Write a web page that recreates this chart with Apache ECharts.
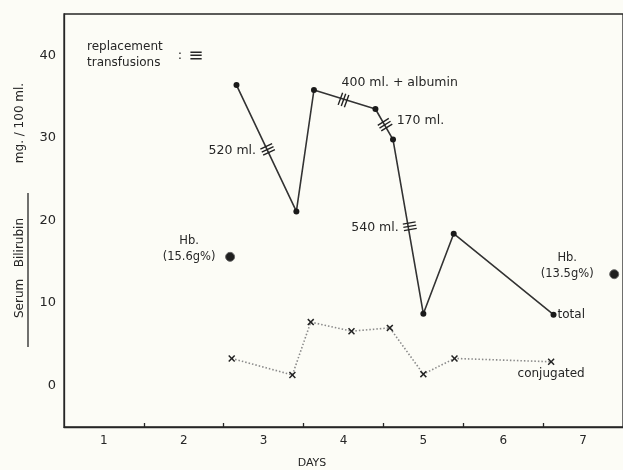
<!DOCTYPE html>
<html><head><meta charset="utf-8">
<script src="https://cdn.jsdelivr.net/npm/echarts@6/dist/echarts.min.js"></script>
<style>html,body{margin:0;padding:0;background:#fcfcf6;}#c{width:623px;height:470px;}</style>
</head><body><div id="c"></div>
<script>
// ---- data ----
const totalDays = [2.66, 3.41, 3.63, 4.40, 4.62, 5.00, 5.38, 6.63];
const totalValues = [36.4, 21.1, 35.8, 33.5, 29.8, 8.7, 18.4, 8.6];
const conjDays = [2.60, 3.36, 3.59, 4.10, 4.58, 5.00, 5.39, 6.60];
const conjValues = [3.3, 1.3, 7.7, 6.6, 7.0, 1.4, 3.3, 2.9];
const hbDays = [2.58, 7.39];
const hbValues = [15.6, 13.5];
const hbLabels = ['(15.6g%)', '(13.5g%)'];
const transDays = [3.05, 4.00, 4.52, 4.83];
const transValues = [28.6, 34.6, 31.6, 19.3];
const transLabels = ['520 ml.', '400 ml. + albumin', '170 ml.', '540 ml.'];
const xLabelValues = [1, 2, 3, 4, 5, 6, 7];
const xTickValues = [1.5, 2.5, 3.5, 4.5, 5.5, 6.5];
const yLabelValues = [0, 10, 20, 30, 40];

// ---- style ----
const ink = '#262626';
const font = 'DejaVu Sans';
const transRot = [25, 70, 32, 10];
const transLabelPos = [
  {position: 'left', distance: 4, offset: [0, 1]},
  {position: 'right', distance: 2, offset: [-10, -17]},
  {position: 'right', distance: 4, offset: [0, -4]},
  {position: 'left', distance: 4, offset: [0, 1]}
];
const hbLabelOffset = [[-41, -8], [-47, -8]];

const chart = echarts.init(document.getElementById('c'));
chart.setOption({
  backgroundColor: '#fcfcf6',
  animation: false,
  textStyle: {fontFamily: font, color: ink},
  grid: {left: 64, top: 14, bottom: 43, right: -5, show: true, borderColor: ink, borderWidth: 1.3},
  xAxis: {
    type: 'value', min: 0.5, max: 7.5,
    axisLine: {show: true, onZero: false, lineStyle: {color: ink, width: 1.3}},
    axisTick: {show: true, inside: true, length: 4, customValues: xTickValues, lineStyle: {color: ink, width: 1.3}},
    axisLabel: {customValues: xLabelValues, margin: 8, fontSize: 12, color: ink, fontFamily: font},
    splitLine: {show: false}
  },
  yAxis: {
    type: 'value', min: -5, max: 45,
    axisLine: {show: true, onZero: false, lineStyle: {color: ink, width: 1.3}},
    axisTick: {show: false},
    axisLabel: {customValues: yLabelValues, margin: 8, fontSize: 13, color: ink, fontFamily: font},
    splitLine: {show: false}
  },
  graphic: [
    {type: 'text', x: 20, y: 123, rotation: Math.PI / 2,
     style: {text: 'mg. / 100 ml.', font: '12px ' + font, fill: ink, align: 'center', verticalAlign: 'middle'}},
    {type: 'text', x: 20, y: 268, rotation: Math.PI / 2,
     style: {text: 'Serum   Bilirubin', font: '12px ' + font, fill: ink, align: 'center', verticalAlign: 'middle'}},
    {type: 'line', shape: {x1: 28, y1: 193, x2: 28, y2: 347}, style: {stroke: ink, lineWidth: 1.3}},
    {type: 'text', x: 312, y: 463,
     style: {text: 'DAYS', font: '11px ' + font, fill: ink, align: 'center', verticalAlign: 'middle'}},
    {type: 'text', x: 87, y: 47,
     style: {text: 'replacement', font: '12px ' + font, fill: ink, align: 'left', verticalAlign: 'middle'}},
    {type: 'text', x: 87, y: 63,
     style: {text: 'transfusions', font: '12px ' + font, fill: ink, align: 'left', verticalAlign: 'middle'}},
    {type: 'text', x: 180, y: 56,
     style: {text: ':', font: '13px ' + font, fill: ink, align: 'center', verticalAlign: 'middle'}},
    {type: 'text', x: 196, y: 56,
     style: {text: '≡', font: '18px ' + font, fill: ink, align: 'center', verticalAlign: 'middle'}}
  ],
  series: [
    {
      name: 'total', type: 'line', z: 3,
      data: totalDays.map((d, i) => [d, totalValues[i]]),
      lineStyle: {color: '#333', width: 1.6},
      symbol: 'circle', symbolSize: 6,
      itemStyle: {color: '#1a1a1a'},
      label: {show: false},
      endLabel: {show: true, formatter: 'total', fontSize: 12, color: ink, fontFamily: font, distance: 4}
    },
    {
      name: 'conjugated', type: 'line', z: 3,
      data: conjDays.map((d, i) => [d, conjValues[i]]),
      lineStyle: {color: '#8a8a8a', width: 1.6, type: [1.5, 2]},
      symbol: 'path://M0,1.5L1.5,0L5,3.5L8.5,0L10,1.5L6.5,5L10,8.5L8.5,10L5,6.5L1.5,10L0,8.5L3.5,5Z',
      symbolSize: 7,
      itemStyle: {color: '#222'},
      label: {show: false}
    },
    {
      name: 'conjugated label', type: 'scatter', silent: true,
      data: [[conjDays[conjDays.length - 1], conjValues[conjValues.length - 1]]],
      symbolSize: 0,
      itemStyle: {opacity: 1},
      label: {show: true, position: 'bottom', distance: 6, formatter: 'conjugated', fontSize: 12, color: ink, fontFamily: font}
    },
    {
      name: 'Hb', type: 'scatter', z: 4,
      data: hbDays.map((d, i) => ({
        value: [d, hbValues[i]],
        label: {show: true, position: 'inside', offset: hbLabelOffset[i], align: 'center', lineHeight: 16,
                formatter: 'Hb.\n' + hbLabels[i], fontSize: 11.5, color: ink, fontFamily: font}
      })),
      symbol: 'circle', symbolSize: 9,
      itemStyle: {color: '#1f1f1f', borderColor: '#666', borderWidth: 1, opacity: 1}
    },
    {
      name: 'transfusions', type: 'scatter', z: 5,
      data: transDays.map((d, i) => ({
        value: [d, transValues[i]],
        symbolRotate: transRot[i],
        label: Object.assign({show: true, formatter: transLabels[i], fontSize: 12.5, color: ink, fontFamily: font}, transLabelPos[i])
      })),
      symbol: 'path://M0,0H12V1.4H0Z M0,3.3H12V4.7H0Z M0,6.6H12V8H0Z',
      symbolSize: [13, 8],
      itemStyle: {color: '#222', opacity: 1}
    }
  ]
});
</script></body></html>
